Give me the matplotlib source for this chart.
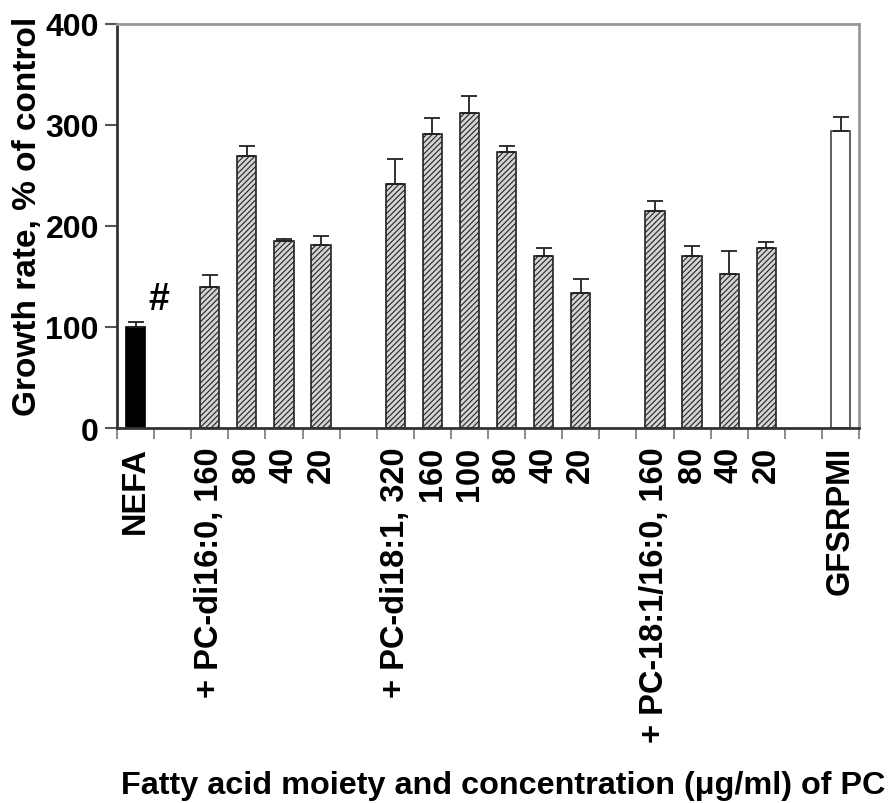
import numpy as np
import matplotlib.pyplot as plt

plt.rcParams['font.family'] = ['Liberation Sans', 'DejaVu Sans']
plt.rcParams['font.weight'] = 'bold'
plt.rcParams['hatch.color'] = '#555555'
plt.rcParams['hatch.linewidth'] = 0.8

# slot labels along x (blank slots separate the groups)
labels = ['NEFA', '',
          '+ PC-di16:0, 160', '80', '40', '20', '',
          '+ PC-di18:1, 320', '160', '100', '80', '40', '20', '',
          '+ PC-18:1/16:0, 160', '80', '40', '20', '',
          'GFSRPMI']

# growth rate (% of control) and upper error, None = empty slot
growth = [100, None,
          140, 269, 185, 181, None,
          242, 291, 312, 273, 170, 134, None,
          215, 170, 152, 178, None,
          294]
err = [5, None,
       11, 10, 2, 9, None,
       24, 16, 17, 6, 8, 14, None,
       10, 10, 23, 6, None,
       14]
kind = ['black', None,
        'pc', 'pc', 'pc', 'pc', None,
        'pc', 'pc', 'pc', 'pc', 'pc', 'pc', None,
        'pc', 'pc', 'pc', 'pc', None,
        'white']

fig = plt.figure(figsize=(8.93, 8.04), dpi=100)
ax = fig.add_axes([0.131, 0.4664, 0.831, 0.5026])

x = np.arange(len(labels)) + 0.5
for xi, g, e, k in zip(x, growth, err, kind):
    if g is None:
        continue
    if k == 'black':
        ax.bar(xi, g, width=0.52, color='black', edgecolor='black', lw=1.2)
    elif k == 'white':
        ax.bar(xi, g, width=0.52, color='white', edgecolor='#444444', lw=1.2)
    else:
        ax.bar(xi, g, width=0.52, color='#d4d4d4', edgecolor='#222222',
               lw=1.2, hatch='//////')
    ax.errorbar(xi, g, yerr=[[0], [e]], fmt='none', ecolor='#222222',
                elinewidth=1.3, capsize=6, capthick=1.3)

ax.text(0.84, 110, '#', fontsize=27, fontweight='bold', va='bottom')

ax.set_xlim(0, len(labels))
ax.set_ylim(0, 400)
ax.set_yticks([0, 100, 200, 300, 400])
ax.set_yticklabels(['0', '100', '200', '300', '400'], fontsize=23, fontweight='bold')
ax.set_xticks(np.arange(len(labels) + 1))
ax.set_xticklabels([])
ax.set_xticks(x, minor=True)
ax.set_xticklabels(labels, minor=True, rotation=90, fontsize=23.5,
                   fontweight='bold', va='top', ha='center')
ax.tick_params(axis='x', which='minor', length=0, pad=13)
ax.tick_params(axis='x', which='major', length=8, width=1.2, color='#777777', direction='out')
ax.tick_params(axis='y', length=9, width=1.5, color='#555555', direction='out', pad=4)

ax.set_ylabel('Growth rate, % of control', fontsize=24, fontweight='bold')
ax.yaxis.set_label_coords(-0.1, 0.527)
fig.text(0.564, 0.022, 'Fatty acid moiety and concentration (\u03bcg/ml) of PC',
         fontsize=23.3, fontweight='bold', ha='center', va='center')

for s in ['left', 'bottom']:
    ax.spines[s].set_linewidth(2)
    ax.spines[s].set_color('#333333')
for s in ['top', 'right']:
    ax.spines[s].set_linewidth(2)
    ax.spines[s].set_color('#999999')

fig.savefig('out.png', dpi=100)
